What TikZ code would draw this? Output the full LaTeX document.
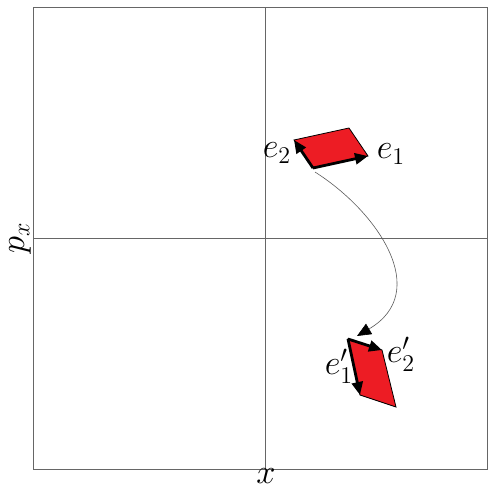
\documentclass[tikz,border=0pt]{standalone}
\usepackage{amsmath,amssymb}
\usepackage{xcolor}
\usepackage{tikz}
\usetikzlibrary{arrows.meta}
\definecolor{cellred}{RGB}{237,28,36}

\begin{document}
\begin{tikzpicture}[x=0.5pt, y=-0.5pt,
    axis/.style={draw=black!60, line width=0.5pt},
    cell/.style={fill=cellred, draw=black, line width=0.4pt},
    vec/.style={-{Triangle[length=6.5pt, width=5.5pt]}, line width=1.4pt},
    flow/.style={-{Triangle[length=7pt, width=6pt, black]}, draw=black!65, line width=0.3pt},
    lbl/.style={font=\LARGE, inner sep=0.5pt},
]
\useasboundingbox (0,0) rectangle (489,488);

% phase plane
\draw[axis] (34,7) rectangle (488,469);
\draw[axis] (266,7) -- (266,469);
\draw[axis] (34,238) -- (488,238);
\node[lbl, rotate=90] (pxlbl) at (20,238) {$p_x$};
\node[lbl] (xlbl) at (266,476) {$x$};

% initial cell
\coordinate (o) at (313,168);
\coordinate (e1) at (368,156);
\coordinate (e2) at (294,140);
\coordinate (c) at (349,128);
\filldraw[cell] (o) -- (e1) -- (c) -- (e2) -- cycle;
\draw[vec] (o) -- (e1);
\draw[vec] (o) -- (e2);
\node[lbl] (e1lbl) at (391,154) {$e_1$};
\node[lbl] (e2lbl) at (277,153) {$e_2$};

% mapped cell
\coordinate (oo) at (348,339);
\coordinate (ee1) at (360,395);
\coordinate (ee2) at (382,350);
\coordinate (cc) at (396,407);
\filldraw[cell] (oo) -- (ee2) -- (cc) -- (ee1) -- cycle;
\draw[vec] (oo) -- (ee1);
\draw[vec] (oo) -- (ee2);
\node[lbl] (ee1lbl) at (339,366) {$e'_1$};
\node[lbl] (ee2lbl) at (401,354) {$e'_2$};

% flow map
\coordinate (start) at (315,172);
\coordinate (finish) at (357,336);
\draw[flow] (start) .. controls (378,212) and (432,292) .. (finish);
\end{tikzpicture}
\end{document}
